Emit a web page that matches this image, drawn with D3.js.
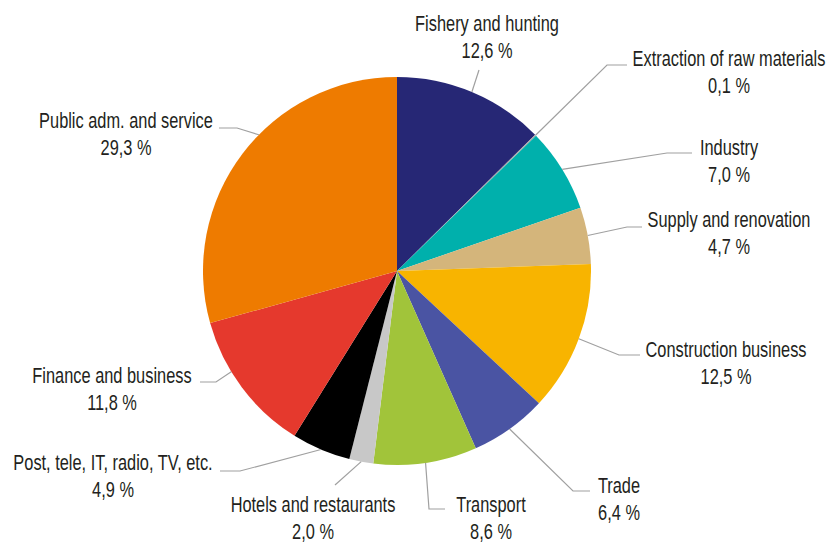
<!DOCTYPE html>
<html>
<head>
<meta charset="utf-8">
<script src="https://cdn.jsdelivr.net/npm/d3@7"></script>
<style>
  html, body { margin: 0; padding: 0; background: #ffffff; }
  svg { display: block; }
  text { font-family: "Liberation Sans", Arial, sans-serif; fill: #231f20; }
</style>
</head>
<body>
<svg id="chart" width="831" height="545"></svg>
<script>
// Employment share by sector (%)
const categories = [
  "Fishery and hunting",
  "Extraction of raw materials",
  "Industry",
  "Supply and renovation",
  "Construction business",
  "Trade",
  "Transport",
  "Hotels and restaurants",
  "Post, tele, IT, radio, TV, etc.",
  "Finance and business",
  "Public adm. and service"
];
const values = [12.6, 0.1, 7.0, 4.7, 12.5, 6.4, 8.6, 2.0, 4.9, 11.8, 29.3];
const colors = [
  "#262775", "#a6a6a6", "#00b0ac", "#d4b57b", "#f8b400", "#4a54a3",
  "#a1c43a", "#c8c8c8", "#000000", "#e5392d", "#ee7b00"
];

// Label placement: text centre, first baseline, leader-line bend points,
// and (optionally) the point along the slice rim where the leader attaches (0 = start, 1 = end)
const labelLayout = [
  { x: 487, y: 31,  bend: [[479, 70]] },
  { x: 729, y: 66,  bend: [[607, 65], [627, 65]] },
  { x: 729, y: 155, bend: [[667, 153], [692, 153]] },
  { x: 729, y: 227, bend: [[627, 227], [642, 227]] },
  { x: 726, y: 357, bend: [[619, 355], [640, 355]] },
  { x: 619, y: 493, bend: [[573, 491], [590, 491]] },
  { x: 491, y: 512, bend: [[429, 509], [445, 509]] },
  { x: 313, y: 512, bend: [[335, 485]] },
  { x: 113, y: 470, bend: [[240, 471], [220, 471]] },
  { x: 112, y: 383, bend: [[216, 382], [200, 382]], rim: 0.63 },
  { x: 126, y: 128, bend: [[237, 128], [219, 128]], rim: 0.57 }
];

const cx = 397, cy = 271, radius = 194;
const lineGap = 27.5;
const condense = 0.745;   // horizontal squeeze for a condensed label face

const svg = d3.select("#chart");
const g = svg.append("g").attr("transform", `translate(${cx},${cy})`);

const data = categories.map((c, i) => ({ name: c, value: values[i], color: colors[i], layout: labelLayout[i] }));

const pie = d3.pie().value(d => d.value).sort(null);
const arc = d3.arc().innerRadius(0).outerRadius(radius);
const arcs = pie(data);

g.selectAll("path.slice")
  .data(arcs)
  .join("path")
  .attr("class", "slice")
  .attr("d", arc)
  .attr("fill", d => d.data.color);

const fmt = v => d3.format(".1f")(v).replace(".", ",") + " %";

// Leader lines from the slice edge to each label
const leader = d3.line();
svg.selectAll("path.leader")
  .data(arcs)
  .join("path")
  .attr("class", "leader")
  .attr("fill", "none")
  .attr("stroke", "#a0a0a0")
  .attr("stroke-width", 1.2)
  .attr("d", d => {
    const t = d.data.layout.rim ?? 0.5;
    const a = d.startAngle + (d.endAngle - d.startAngle) * t;
    const start = [cx + radius * Math.sin(a), cy - radius * Math.cos(a)];
    return leader([start, ...d.data.layout.bend]);
  });

const labels = svg.selectAll("text.label")
  .data(arcs)
  .join("text")
  .attr("class", "label")
  .attr("text-anchor", "middle")
  .attr("font-size", 22)
  .attr("transform", d => `translate(${d.data.layout.x},${d.data.layout.y}) scale(${condense},1)`);

labels.append("tspan").attr("x", 0).attr("y", 0).text(d => d.data.name);
labels.append("tspan").attr("x", 0).attr("y", lineGap).text(d => fmt(d.data.value));
</script>
</body>
</html>
